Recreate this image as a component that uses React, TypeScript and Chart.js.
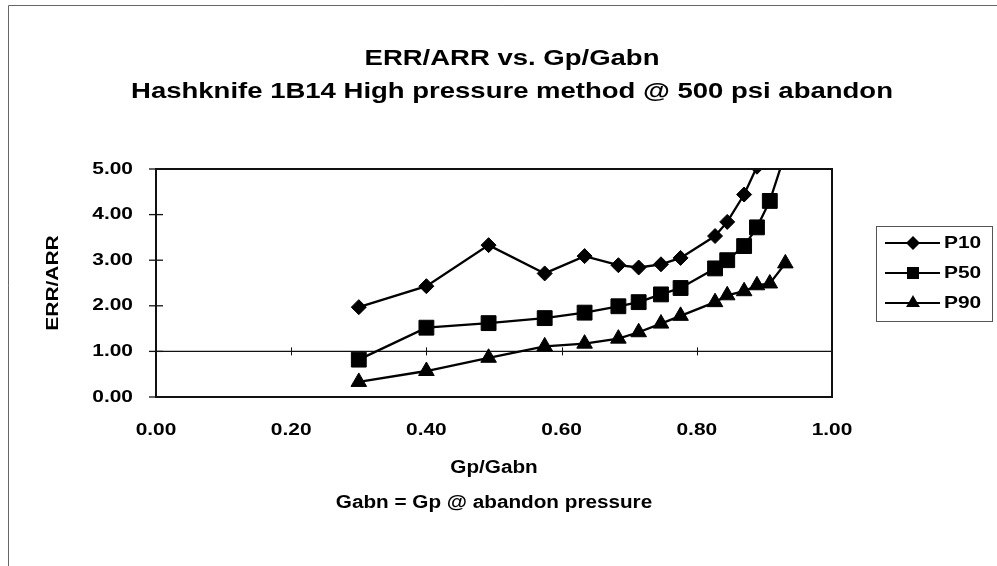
import React, { useEffect, useRef } from 'react';
import { Chart, registerables } from 'chart.js';

Chart.register(...registerables);

const titleLines = ['ERR/ARR vs. Gp/Gabn', 'Hashknife 1B14 High pressure method @ 500 psi abandon'];
const xTitleLines = ['Gp/Gabn', 'Gabn = Gp @ abandon pressure'];
const yTitle = 'ERR/ARR';
const seriesNames = ['P10', 'P50', 'P90'];
const gpGabn = [0.30, 0.40, 0.492, 0.575, 0.634, 0.684, 0.714, 0.747, 0.776, 0.827, 0.845, 0.87, 0.889, 0.908, 0.931];
const p10 = [1.97, 2.43, 3.33, 2.71, 3.09, 2.89, 2.84, 2.91, 3.05, 3.53, 3.84, 4.44, 5.05];
const p50 = [0.82, 1.52, 1.62, 1.73, 1.85, 1.99, 2.08, 2.25, 2.39, 2.82, 3.0, 3.31, 3.72, 4.30, 5.35];
const p90 = [0.33, 0.57, 0.86, 1.11, 1.17, 1.28, 1.42, 1.61, 1.78, 2.08, 2.23, 2.32, 2.45, 2.49, 2.93];
const xTickValues = [0, 0.2, 0.4, 0.6, 0.8, 1.0];
const yTickValues = [0, 1, 2, 3, 4, 5];
const refLineValue = 1;

const FAMILY = '"Liberation Sans", Arial, Helvetica, sans-serif';
const W = 997;
const H = 566;

function patchContext(ctx: CanvasRenderingContext2D) {
  const origFill = ctx.fillText.bind(ctx);
  const origMeasure = ctx.measureText.bind(ctx);
  const stretchFor = () => (/\b18px/.test(ctx.font) ? 1.15 : /\b22px/.test(ctx.font) ? 1.25 : 1.23);
  (ctx as any).fillText = (text: string, x: number, y: number) => {
    const s = stretchFor();
    ctx.save();
    ctx.translate(x, y);
    ctx.scale(s, 1);
    origFill(text, 0, 0);
    ctx.restore();
  };
  (ctx as any).measureText = (text: string) => {
    const m = origMeasure(text);
    const s = stretchFor();
    return {
      width: m.width * s,
      actualBoundingBoxLeft: m.actualBoundingBoxLeft * s,
      actualBoundingBoxRight: m.actualBoundingBoxRight * s,
      actualBoundingBoxAscent: m.actualBoundingBoxAscent,
      actualBoundingBoxDescent: m.actualBoundingBoxDescent,
      fontBoundingBoxAscent: m.fontBoundingBoxAscent,
      fontBoundingBoxDescent: m.fontBoundingBoxDescent,
    };
  };
}

function drawMarker(ctx: CanvasRenderingContext2D, style: string, x: number, y: number) {
  ctx.beginPath();
  if (style === 'rectRot') {
    ctx.moveTo(x, y - 7);
    ctx.lineTo(x + 7, y);
    ctx.lineTo(x, y + 7);
    ctx.lineTo(x - 7, y);
    ctx.closePath();
  } else if (style === 'rect') {
    ctx.rect(x - 6, y - 6, 12, 12);
  } else {
    const r = 8;
    ctx.moveTo(x, y - r);
    ctx.lineTo(x + r * 0.866, y + r * 0.5);
    ctx.lineTo(x - r * 0.866, y + r * 0.5);
    ctx.closePath();
  }
  ctx.fill();
}

const pointStyles = ['rectRot', 'rect', 'triangle'];

const decorPlugin = {
  id: 'decor',
  beforeDatasetsDraw(chart: any) {
    const { ctx, chartArea: a, scales } = chart;
    ctx.save();
    const y1 = scales.y.getPixelForValue(refLineValue);
    ctx.strokeStyle = '#111';
    ctx.lineWidth = 1.3;
    ctx.beginPath();
    ctx.moveTo(a.left, y1);
    ctx.lineTo(a.right, y1);
    ctx.stroke();
    ctx.lineWidth = 1;
    xTickValues.forEach((v) => {
      if (v <= 0 || v >= 1) return;
      const x = Math.round(scales.x.getPixelForValue(v)) + 0.5;
      ctx.beginPath();
      ctx.moveTo(x, y1 - 4);
      ctx.lineTo(x, y1 + 4);
      ctx.stroke();
    });
    ctx.restore();
  },
  afterDraw(chart: any) {
    const { ctx, chartArea: a, scales } = chart;
    ctx.save();
    // outer frame
    ctx.strokeStyle = '#666';
    ctx.lineWidth = 1;
    ctx.beginPath();
    ctx.moveTo(8.5, H);
    ctx.lineTo(8.5, 5.5);
    ctx.lineTo(W, 5.5);
    ctx.stroke();
    // y tick marks crossing the axis
    ctx.strokeStyle = '#111';
    ctx.lineWidth = 1.3;
    yTickValues.forEach((v) => {
      const y = scales.y.getPixelForValue(v);
      ctx.beginPath();
      ctx.moveTo(a.left - 7, y);
      ctx.lineTo(v === 0 || v === 5 ? a.left : a.left + 7, y);
      ctx.stroke();
    });
    // plot border
    ctx.lineWidth = 2;
    ctx.strokeStyle = '#111';
    ctx.strokeRect(a.left, a.top, a.right - a.left, a.bottom - a.top);
    // title
    ctx.fillStyle = '#000';
    ctx.font = `bold 22px ${FAMILY}`;
    ctx.textAlign = 'center';
    ctx.textBaseline = 'middle';
    ctx.fillText(titleLines[0], 512, 59);
    ctx.fillText(titleLines[1], 512, 92);
    // legend
    ctx.strokeStyle = '#555';
    ctx.lineWidth = 1;
    ctx.strokeRect(876.5, 226.5, 116, 95);
    ctx.font = `bold 17px ${FAMILY}`;
    ctx.textAlign = 'left';
    seriesNames.forEach((name, i) => {
      const y = 243 + i * 30;
      ctx.strokeStyle = '#000';
      ctx.lineWidth = 2;
      ctx.beginPath();
      ctx.moveTo(885, y);
      ctx.lineTo(940, y);
      ctx.stroke();
      ctx.fillStyle = '#000';
      drawMarker(ctx, pointStyles[i], 913, y);
      ctx.fillText(name, 944, y);
    });
    ctx.restore();
  },
};

export default function App() {
  const ref = useRef<HTMLCanvasElement | null>(null);
  useEffect(() => {
    const canvas = ref.current;
    if (!canvas) return;
    const ctx = canvas.getContext('2d') as CanvasRenderingContext2D;
    patchContext(ctx);
    const series = [p10, p50, p90];
    const radii = [7.5, 10.5, 9];
    const chart = new Chart(ctx, {
      type: 'scatter',
      data: {
        datasets: series.map((vals, i) => ({
          label: seriesNames[i],
          data: vals.map((v, j) => ({ x: gpGabn[j], y: v })),
          showLine: true,
          borderColor: '#000',
          backgroundColor: '#000',
          borderWidth: 2.3,
          pointStyle: pointStyles[i] as any,
          pointRadius: radii[i],
          pointBorderWidth: 1,
          pointBackgroundColor: '#000',
          pointBorderColor: '#000',
          tension: 0,
        })),
      },
      options: {
        animation: false,
        responsive: false,
        devicePixelRatio: 1,
        layout: { padding: { left: 30, top: 169, right: 165, bottom: 0 } },
        plugins: {
          legend: { display: false },
          title: { display: false },
          tooltip: { enabled: false },
        },
        scales: {
          x: {
            type: 'linear',
            min: 0,
            max: 1,
            grid: { display: false, drawTicks: false },
            border: { display: false },
            ticks: {
              stepSize: 0.2,
              padding: 23,
              maxRotation: 0,
              color: '#000',
              font: { family: FAMILY, size: 17, weight: 'bold' },
              callback: (v: any) => Number(v).toFixed(2),
            },
            title: {
              display: true,
              text: xTitleLines,
              color: '#000',
              font: { family: FAMILY, size: 18, weight: 'bold', lineHeight: 1.95 },
              padding: { top: 0, bottom: 45 },
            },
            afterFit: (s: any) => {
              s.height = H - 397;
            },
          },
          y: {
            type: 'linear',
            min: 0,
            max: 5,
            grid: { display: false, drawTicks: false },
            border: { display: false },
            ticks: {
              stepSize: 1,
              padding: 23,
              color: '#000',
              font: { family: FAMILY, size: 17, weight: 'bold' },
              callback: (v: any) => Number(v).toFixed(2),
            },
            title: {
              display: true,
              text: yTitle,
              color: '#000',
              font: { family: FAMILY, size: 17, weight: 'bold', lineHeight: 1.2 },
              padding: { top: 13, bottom: 0 },
            },
            afterFit: (s: any) => {
              s.width = 126;
            },
          },
        },
      },
      plugins: [decorPlugin],
    });
    return () => chart.destroy();
  }, []);
  return (
    <div style={{ position: 'absolute', left: 0, top: 0, width: W, height: H, background: '#fff' }}>
      <canvas ref={ref} width={W} height={H} style={{ display: 'block', width: W, height: H }} />
    </div>
  );
}
